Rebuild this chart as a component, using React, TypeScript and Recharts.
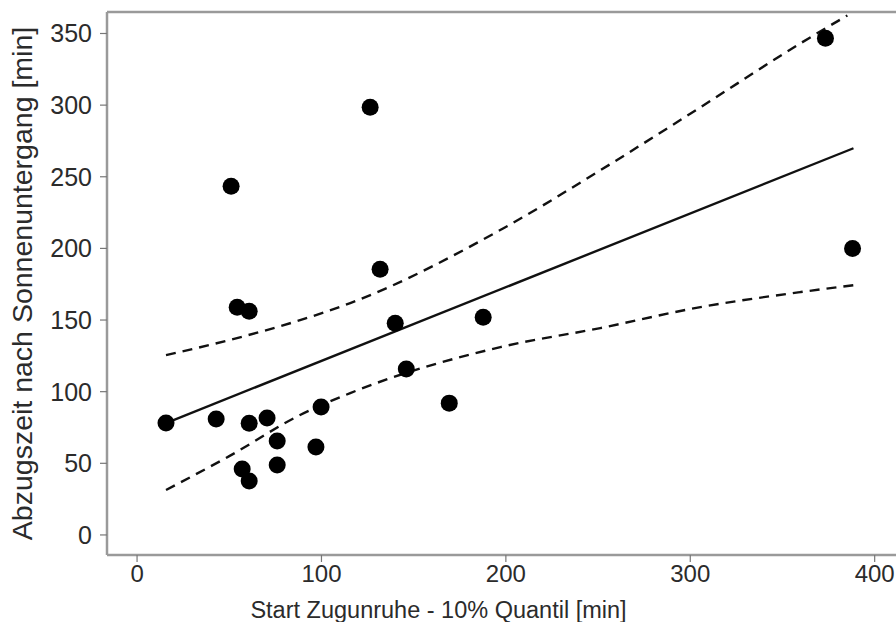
import React from "react";
import {
  ComposedChart,
  Scatter,
  Line,
  XAxis,
  YAxis,
  ReferenceLine,
} from "recharts";

// observations: start of Zugunruhe (10% quantile) vs departure after sunset
const startMin = [
  15.7, 42.9, 51, 54.3, 60.8, 60.8, 57, 60.8, 70.5, 76, 76, 97, 99.8, 126.4,
  131.8, 140, 146, 169.3, 187.7, 373.3, 388,
];
const departMin = [
  78.1, 80.9, 243.4, 159, 156.2, 78, 46, 37.7, 81.6, 65.5, 48.8, 61.4, 89.3,
  298.5, 185.5, 147.8, 115.8, 92, 152, 346.6, 200,
];

// regression line and its confidence band
const fitX = [15.7, 388.5];
const fitY = [78.1, 269.9];
const upperX = [15.7, 50, 88.4, 115.6, 199.7, 251.2, 305.5, 359.7, 385.2];
const upperY = [125.5, 136, 149.9, 161.8, 214.8, 254.5, 298.5, 343.1, 362.6];
const lowerX = [15.7, 50, 88.4, 115.6, 197, 251.2, 305.5, 359.7, 388.5];
const lowerY = [31.4, 55, 83.7, 99, 131.1, 144.4, 159, 169.5, 174.3];

const xTicks = [0, 100, 200, 300, 400];
const yTicks = [0, 50, 100, 150, 200, 250, 300, 350];

const zip = (xs: number[], ys: number[]) =>
  xs.map((x, i) => ({ x, y: ys[i] }));

const points = zip(startMin, departMin);
const fit = zip(fitX, fitY);
const upper = zip(upperX, upperY);
const lower = zip(lowerX, lowerY);

const FONT = "'Liberation Sans', Arial, sans-serif";
const BOX = "#9a9a9a";
const TEXT = "#2b2b2b";

const Dot = (props: any) => (
  <circle cx={props.cx} cy={props.cy} r={8.5} fill="#000" />
);

export default function App() {
  return (
    <div
      style={{
        position: "absolute",
        left: 0,
        top: 0,
        width: 896,
        height: 622,
        overflow: "hidden",
        background: "#fff",
      }}
    >
      <ComposedChart
        width={930}
        height={622}
        margin={{ top: 12, right: 0, bottom: 0, left: 0 }}
        style={{ fontFamily: FONT }}
      >
        <XAxis
          type="number"
          dataKey="x"
          domain={[-16.3, 430]}
          ticks={xTicks}
          allowDataOverflow
          height={67}
          axisLine={{ stroke: BOX, strokeWidth: 2.5 }}
          tickLine={{ stroke: "#777", strokeWidth: 1.2 }}
          tickSize={7}
          tickMargin={3}
          tick={{ fill: TEXT, fontSize: 24 }}
          label={{
            value: "Start Zugunruhe - 10% Quantil [min]",
            position: "insideBottom",
            offset: 4,
            fill: TEXT,
            fontSize: 23.5,
            dx: -80,
          }}
        />
        <YAxis
          type="number"
          dataKey="y"
          domain={[-14, 365]}
          ticks={yTicks}
          allowDataOverflow
          width={107}
          axisLine={{ stroke: BOX, strokeWidth: 2.5 }}
          tickLine={{ stroke: "#777", strokeWidth: 1.2 }}
          tickSize={7}
          tickMargin={8}
          tick={{ fill: TEXT, fontSize: 25 }}
          label={{
            value: "Abzugszeit nach Sonnenuntergang [min]",
            angle: -90,
            position: "insideLeft",
            offset: 22,
            fill: TEXT,
            fontSize: 28.5,
            style: { textAnchor: "middle" },
          }}
        />
        <ReferenceLine y={365} stroke={BOX} strokeWidth={2.5} />
        <Line
          data={upper}
          dataKey="y"
          type="monotone"
          stroke="#111"
          strokeWidth={2.4}
          strokeDasharray="10 7"
          dot={false}
          activeDot={false}
          isAnimationActive={false}
        />
        <Line
          data={lower}
          dataKey="y"
          type="monotone"
          stroke="#111"
          strokeWidth={2.4}
          strokeDasharray="10 7"
          dot={false}
          activeDot={false}
          isAnimationActive={false}
        />
        <Line
          data={fit}
          dataKey="y"
          type="linear"
          stroke="#111"
          strokeWidth={2.4}
          dot={false}
          activeDot={false}
          isAnimationActive={false}
        />
        <Scatter data={points} shape={<Dot />} isAnimationActive={false} />
      </ComposedChart>
    </div>
  );
}
